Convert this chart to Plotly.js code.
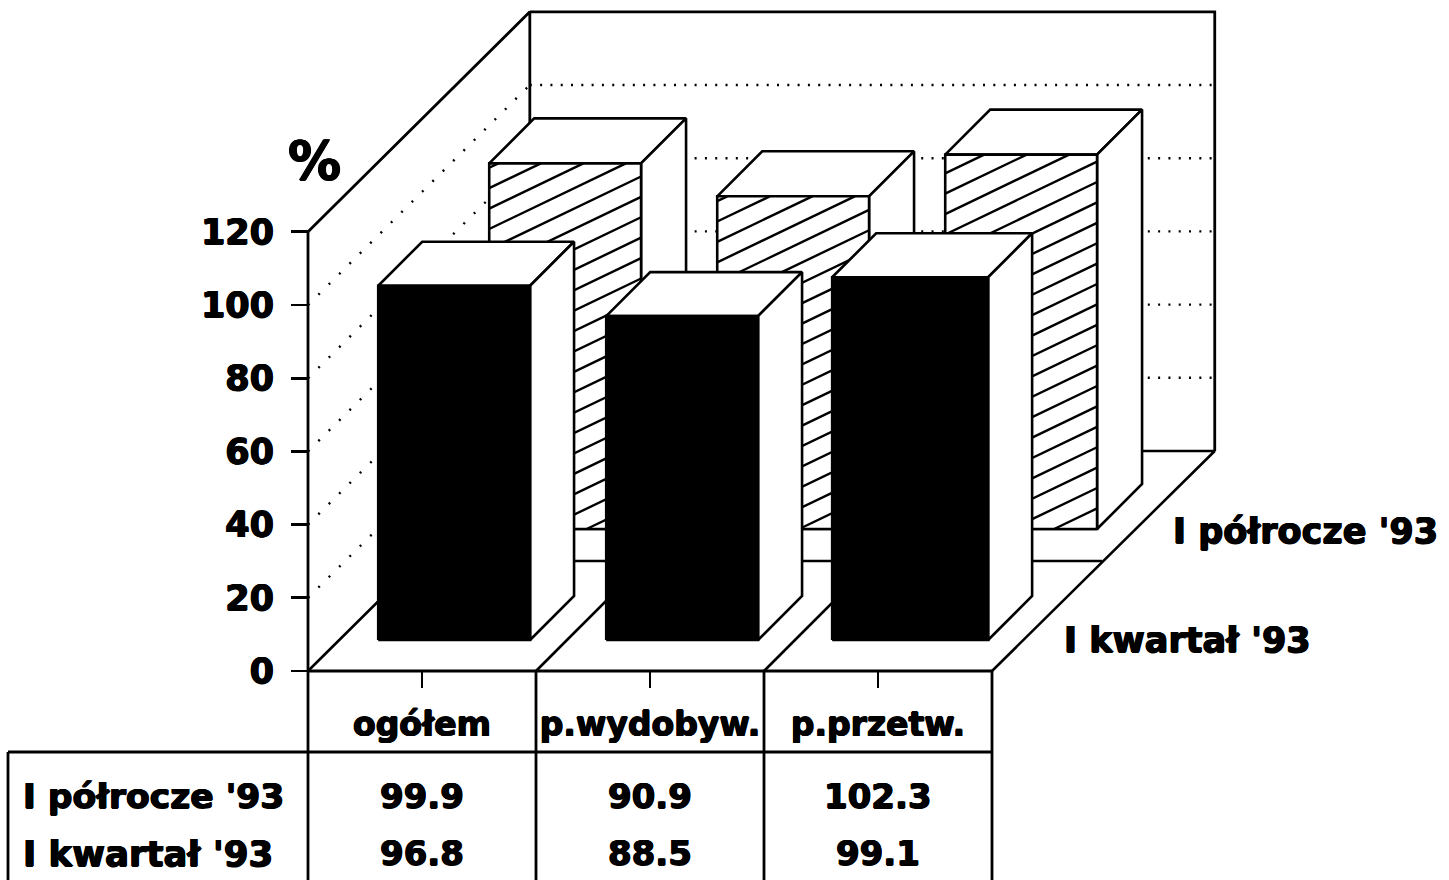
<!DOCTYPE html>
<html>
<head>
<meta charset="utf-8">
<script src="https://cdn.plot.ly/plotly-3.0.1.min.js"></script>
<style>html,body{margin:0;padding:0;background:#fff}#chart{width:1449px;height:880px}</style>
</head>
<body>
<div id="chart"></div>
<script>
const categories = ['ogółem', 'p.wydobyw.', 'p.przetw.'];
const seriesNames = ["I półrocze '93", "I kwartał '93"];
const firstHalf = [99.9, 90.9, 102.3];
const firstQuarter = [96.8, 88.5, 99.1];
const yTicks = [0, 20, 40, 60, 80, 100, 120];
const gridLevels = [20, 40, 60, 80, 100];

// oblique projection: screen scale of the axes
const W = 1449, H = 880;
const pxPerCat = 228, pxPerPct = 3.66, x0Px = 308, y0Px = 671;
const fontFam = '"DejaVu Sans", sans-serif';
const heavy = '0.7px 0 0 #000, -0.7px 0 0 #000, 0 0.5px 0 #000, 0 -0.5px 0 #000';
const wallDepth = 220;
const nCat = categories.length;
const wallL = 0.008, wallR = nCat + 0.012;

// data coordinate of (category position, value, depth in px of oblique shift)
const X = (c, d) => c + d / pxPerCat;
const Y = (v, d) => v + d / pxPerPct;
const xOfPx = p => (p - x0Px) / pxPerCat;
const yOfPx = p => (y0Px - p) / pxPerPct;

const traces = [];
function path(pts, opt) {
  opt = opt || {};
  const t = {
    type: 'scatter', mode: 'lines', x: pts.map(p => p[0]), y: pts.map(p => p[1]),
    line: { color: '#000', width: opt.w || 2.6, dash: opt.dash || 'solid' },
    hoverinfo: 'skip', showlegend: false
  };
  if (opt.fill) { t.fill = 'toself'; t.fillcolor = opt.fill; }
  traces.push(t);
}
const P = (c, v, d) => [X(c, d), Y(v, d)];

// walls
path([P(0,120,0), P(wallL,120,wallDepth), P(wallL,0,wallDepth)], { w: 2.8 });
path([P(wallL,120,wallDepth), P(wallR,120,wallDepth), P(wallR,0,wallDepth)], { w: 2.8 });
// floor
path([P(0,0,0), P(wallL,0,wallDepth), P(wallR,0,wallDepth), P(nCat,0,0)]);
for (let c = 1; c < nCat; c++) path([P(c,0,0), P(c,0,wallDepth)]);
// dotted grid
gridLevels.forEach(v => {
  path([P(0,v,0), P(wallL,v,wallDepth)], { w: 2.4, dash: '2px,12.6px' });
  path([P(wallL,v,wallDepth), P(wallR - 0.004,v,wallDepth)], { w: 2.4, dash: '2px,8.3px' });
});
// floor row lines
const backHalfW = 0.333, barCentre = 0.505;
path([P(0,0,110), P(nCat,0,110)]);
path([P(0,0,142), P(nCat - 1 + barCentre + backHalfW,0,142)]);

function bar(c, v, dFront, dBack, halfW, face) {
  const l = c + barCentre - halfW, r = c + barCentre + halfW;
  // top
  path([P(l,v,dFront), P(r,v,dFront), P(r,v,dBack), P(l,v,dBack), P(l,v,dFront)], { fill: '#fff' });
  // side
  path([P(r,0,dFront), P(r,v,dFront), P(r,v,dBack), P(r,0,dBack), P(r,0,dFront)], { fill: '#fff' });
  // front
  path([P(l,0,dFront), P(l,v,dFront), P(r,v,dFront), P(r,0,dFront), P(l,0,dFront)], { fill: face === 'solid' ? '#000' : '#fff' });
  if (face === 'hatch') hatch(l, r, v, dFront);
}
// diagonal shading clipped to a bar's front face
function hatch(l, r, v, d) {
  const L = x0Px + X(l, d) * pxPerCat, R = x0Px + X(r, d) * pxPerCat;
  const T = y0Px - Y(v, d) * pxPerPct, B = y0Px - Y(0, d) * pxPerPct;
  const slope = 0.48, step = 20.4, phase = 15;
  const xs = [], ys = [];
  for (let k = phase; k < 2200; k += step) {
    // screen line: y = k - slope * x
    let xa = L, ya = k - slope * L, xb = R, yb = k - slope * R;
    if (ya < T || yb > B) continue;
    if (ya > B) { xa = (k - B) / slope; ya = B; }
    if (yb < T) { xb = (k - T) / slope; yb = T; }
    if (xa >= xb) continue;
    xs.push(xOfPx(xa), xOfPx(xb), null);
    ys.push(yOfPx(ya), yOfPx(yb), null);
  }
  traces.push({ type: 'scatter', mode: 'lines', x: xs, y: ys, line: { color: '#000', width: 2.4 }, hoverinfo: 'skip', showlegend: false });
}
firstHalf.forEach((v, c) => bar(c, v, 142, 187, backHalfW, 'hatch'));
firstQuarter.forEach((v, c) => bar(c, v, 31, 75, c === 2 ? 0.342 : 0.333, 'solid'));

// data table frame
const tTop = yOfPx(752), tBot = yOfPx(880), tLeft = xOfPx(8);
for (let c = 0; c <= nCat; c++) path([[c, 0], [c, tBot]], { w: 2.8 });
path([[0, 0], [0, 120]], { w: 2.8 });
path([[0, 0], [nCat, 0]], { w: 2.8 });
path([[tLeft, tTop], [nCat, tTop]], { w: 3 });
path([[tLeft, tTop], [tLeft, tBot]], { w: 2.8 });

const ann = [];
function label(text, x, y, anchor, size) {
  ann.push({ text, x, y, xref: 'x', yref: 'y', xanchor: anchor, yanchor: 'middle', showarrow: false,
    font: { family: fontFam, size: size || 34, color: '#000', weight: 700, shadow: heavy } });
}
label('%', xOfPx(314), yOfPx(160), 'center', 53);
label(seriesNames[0], xOfPx(1171), yOfPx(531), 'left', 35);
label(seriesNames[1], xOfPx(1062), yOfPx(640), 'left', 35);
label(seriesNames[0], xOfPx(21), yOfPx(796), 'left', 34.5);
label(seriesNames[1], xOfPx(21), yOfPx(853), 'left', 35.5);
firstHalf.forEach((v, c) => label(v.toFixed(1), c + 0.5, yOfPx(796), 'center'));
firstQuarter.forEach((v, c) => label(v.toFixed(1), c + 0.5, yOfPx(853), 'center'));

const layout = {
  width: W, height: H, margin: { l: 0, r: 0, t: 0, b: 0 },
  paper_bgcolor: '#fff', plot_bgcolor: '#fff', showlegend: false,
  xaxis: {
    range: [xOfPx(0), xOfPx(W)], domain: [0, 1], anchor: 'free', position: (H - y0Px) / H,
    tickmode: 'array', tickvals: categories.map((_, i) => i + 0.5), ticktext: categories,
    ticks: 'outside', ticklen: 16, tickwidth: 2.6, tickcolor: '#000',
    ticklabelstandoff: 8, tickangle: 0,
    tickfont: { family: fontFam, size: 33, color: '#000', weight: 700, shadow: heavy },
    showgrid: false, zeroline: false, showline: false, fixedrange: true
  },
  yaxis: {
    range: [yOfPx(H), yOfPx(0)], domain: [0, 1], anchor: 'free', position: x0Px / W,
    tickmode: 'array', tickvals: yTicks,
    ticks: 'outside', ticklen: 17, tickwidth: 2.8, tickcolor: '#000',
    ticklabelstandoff: 10,
    tickfont: { family: fontFam, size: 35, color: '#000', weight: 700, shadow: heavy },
    showgrid: false, zeroline: false, showline: false, fixedrange: true
  },
  annotations: ann
};
Plotly.newPlot('chart', traces, layout, { displayModeBar: false, staticPlot: true });
</script>
</body>
</html>
